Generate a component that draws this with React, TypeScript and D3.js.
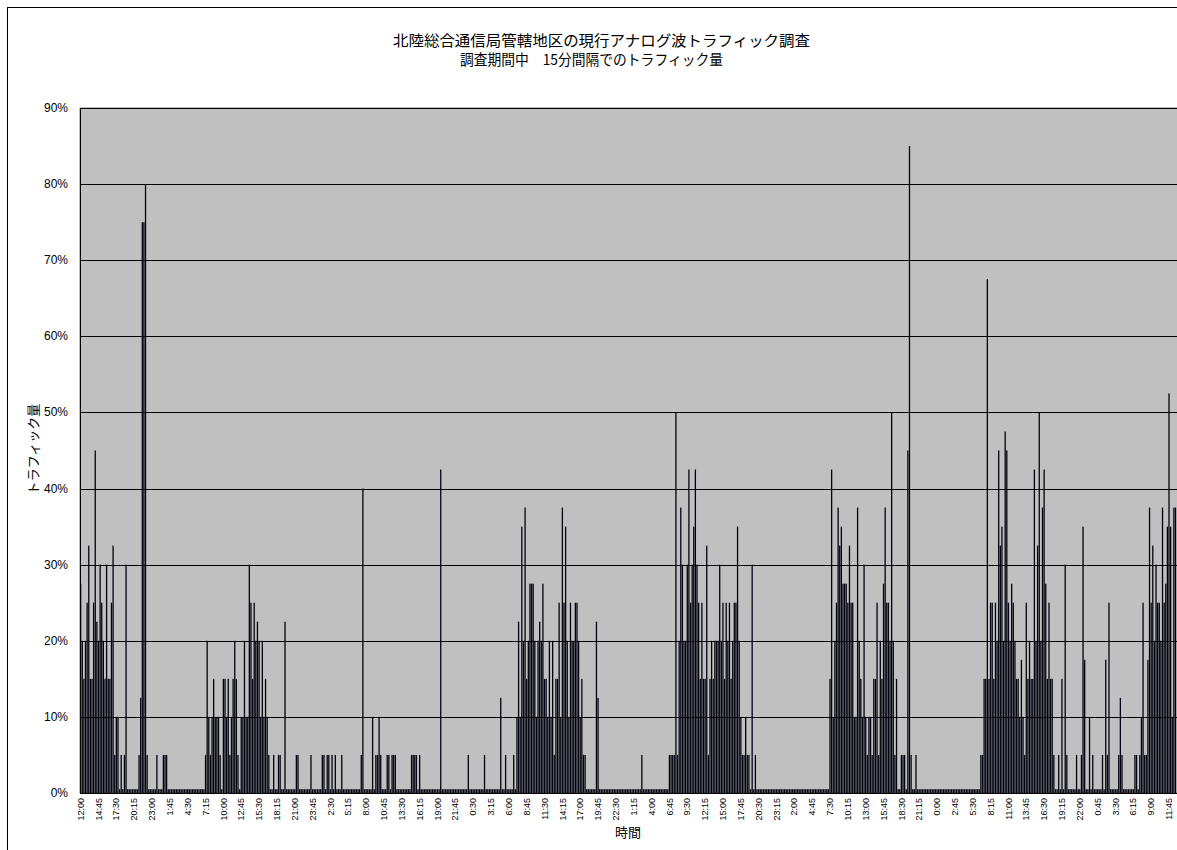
import React from 'react';
import * as d3 from 'd3';

// 15-minute traffic (%), one array per day, each day starting at 12:00
const day1 = [
  27.5, 20, 15, 20, 25, 32.5, 15, 15, 25, 45,
  22.5, 20, 30, 25, 20, 15, 30, 15, 15, 25,
  32.5, 5, 10, 10, 0.5, 5, 0.5, 5, 30, 0.5,
  0.5, 0.5, 0.5, 0.5, 0.5, 0.5, 5, 12.5, 75, 75,
  80, 5, 0.5, 0.5, 0.5, 0.5, 0.5, 5, 0.5, 0.5,
  0.5, 5, 5, 5, 0.5, 0.5, 0.5, 0.5, 0.5, 0.5,
  0.5, 0.5, 0.5, 0.5, 0.5, 0.5, 0.5, 0.5, 0.5, 0.5,
  0.5, 0.5, 0.5, 0.5, 0.5, 0.5, 0.5, 5, 20, 10,
  5, 10, 15, 10, 10, 10, 5, 0.5, 15, 15,
  10, 15, 5, 10, 15, 20,
];
const day2 = [
  15, 5, 0.5, 10, 10, 20, 10, 10, 30, 25,
  15, 25, 20, 22.5, 20, 10, 20, 10, 15, 10,
  5, 0.5, 0.5, 5, 0.5, 0.5, 5, 5, 0.5, 0.5,
  22.5, 0.5, 0.5, 0.5, 0.5, 0.5, 0.5, 5, 5, 0.5,
  0.5, 0.5, 0.5, 0.5, 0.5, 0.5, 5, 0.5, 0.5, 0.5,
  0.5, 0.5, 0.5, 5, 5, 0.5, 5, 5, 0.5, 5,
  0.5, 5, 0.5, 0.5, 0.5, 5, 0.5, 0.5, 0.5, 0.5,
  0.5, 0.5, 0.5, 0.5, 0.5, 0.5, 0.5, 5, 40, 0.5,
  0.5, 0.5, 0.5, 0.5, 10, 0.5, 5, 5, 10, 5,
  0.5, 0.5, 0.5, 5, 5, 0.5,
];
const day3 = [
  5, 5, 5, 0.5, 0.5, 0.5, 0.5, 0.5, 0.5, 0.5,
  0.5, 0.5, 5, 5, 5, 5, 0.5, 5, 0.5, 0.5,
  0.5, 0.5, 0.5, 0.5, 0.5, 0.5, 0.5, 0.5, 0.5, 0.5,
  42.5, 0.5, 0.5, 0.5, 0.5, 0.5, 0.5, 0.5, 0.5, 0.5,
  0.5, 0.5, 0.5, 0.5, 0.5, 0.5, 0.5, 5, 0.5, 0.5,
  0.5, 0.5, 0.5, 0.5, 0.5, 0.5, 0.5, 5, 0.5, 0.5,
  0.5, 0.5, 0.5, 0.5, 0.5, 0.5, 0.5, 12.5, 0.5, 0.5,
  5, 0.5, 0.5, 0.5, 0.5, 5, 0.5, 10, 22.5, 10,
  35, 20, 37.5, 15, 20, 27.5, 27.5, 27.5, 20, 10,
  20, 22.5, 20, 27.5, 15, 15,
];
const day4 = [
  10, 20, 10, 20, 5, 15, 15, 25, 10, 37.5,
  25, 35, 20, 10, 25, 20, 20, 25, 25, 20,
  10, 15, 5, 5, 0.5, 0.5, 0.5, 0.5, 0.5, 0.5,
  22.5, 12.5, 0.5, 0.5, 0.5, 0.5, 0.5, 0.5, 0.5, 0.5,
  0.5, 0.5, 0.5, 0.5, 0.5, 0.5, 0.5, 0.5, 0.5, 0.5,
  0.5, 0.5, 0.5, 0.5, 0.5, 0.5, 0.5, 0.5, 5, 0.5,
  0.5, 0.5, 0.5, 0.5, 0.5, 0.5, 0.5, 0.5, 0.5, 0.5,
  0.5, 0.5, 0.5, 0.5, 0.5, 5, 5, 5, 5, 50,
  5, 20, 37.5, 30, 20, 20, 30, 42.5, 25, 30,
  35, 42.5, 30, 25, 15, 25,
];
const day5 = [
  15, 15, 32.5, 5, 15, 20, 15, 20, 20, 20,
  30, 20, 25, 15, 25, 20, 25, 15, 20, 25,
  25, 35, 20, 10, 5, 5, 10, 5, 5, 0.5,
  30, 0.5, 5, 0.5, 0.5, 0.5, 0.5, 0.5, 0.5, 0.5,
  0.5, 0.5, 0.5, 0.5, 0.5, 0.5, 0.5, 0.5, 0.5, 0.5,
  0.5, 0.5, 0.5, 0.5, 0.5, 0.5, 0.5, 0.5, 0.5, 0.5,
  0.5, 0.5, 0.5, 0.5, 0.5, 0.5, 0.5, 0.5, 0.5, 0.5,
  0.5, 0.5, 0.5, 0.5, 0.5, 0.5, 0.5, 0.5, 15, 42.5,
  10, 20, 25, 37.5, 32.5, 35, 27.5, 27.5, 27.5, 25,
  32.5, 25, 25, 10, 10, 37.5,
];
const day6 = [
  20, 15, 10, 30, 10, 5, 10, 10, 5, 15,
  15, 25, 5, 20, 15, 27.5, 37.5, 25, 25, 20,
  50, 20, 5, 15, 0.5, 0.5, 5, 5, 5, 0.5,
  45, 85, 5, 0.5, 0.5, 5, 0.5, 0.5, 0.5, 0.5,
  0.5, 0.5, 0.5, 0.5, 0.5, 0.5, 0.5, 0.5, 0.5, 0.5,
  0.5, 0.5, 0.5, 0.5, 0.5, 0.5, 0.5, 0.5, 0.5, 0.5,
  0.5, 0.5, 0.5, 0.5, 0.5, 0.5, 0.5, 0.5, 0.5, 0.5,
  0.5, 0.5, 0.5, 0.5, 0.5, 5, 5, 15, 15, 67.5,
  15, 25, 25, 15, 25, 20, 45, 32.5, 35, 20,
  47.5, 45, 25, 20, 27.5, 25,
];
const day7 = [
  20, 15, 15, 10, 17.5, 10, 5, 25, 15, 20,
  15, 15, 42.5, 20, 32.5, 50, 20, 37.5, 42.5, 27.5,
  15, 25, 15, 15, 5, 0.5, 0.5, 5, 0.5, 15,
  0.5, 30, 5, 0.5, 0.5, 0.5, 0.5, 0.5, 5, 0.5,
  0.5, 5, 35, 17.5, 0.5, 0.5, 10, 0.5, 5, 0.5,
  0.5, 0.5, 0.5, 0.5, 5, 0.5, 17.5, 5, 25, 0.5,
  0.5, 0.5, 0.5, 0.5, 5, 12.5, 5, 0.5, 0.5, 0.5,
  0.5, 0.5, 0.5, 0.5, 5, 5, 0.5, 5, 10, 25,
  5, 5, 17.5, 37.5, 25, 32.5, 20, 30, 25, 25,
  20, 37.5, 25, 27.5, 35, 52.5,
];
// first intervals of the following day (chart is cut at the right edge)
const day8 = [35, 10, 37.5, 37.5];

const xLabels = [
  '12:00', '14:45', '17:30', '20:15', '23:00', '1:45', '4:30', '7:15', '10:00', '12:45',
  '15:30', '18:15', '21:00', '23:45', '2:30', '5:15', '8:00', '10:45', '13:30', '16:15',
  '19:00', '21:45', '0:30', '3:15', '6:00', '8:45', '11:30', '14:15', '17:00', '19:45',
  '22:30', '1:15', '4:00', '6:45', '9:30', '12:15', '15:00', '17:45', '20:30', '23:15',
  '2:00', '4:45', '7:30', '10:15', '13:00', '15:45', '18:30', '21:15', '0:00', '2:45',
  '5:30', '8:15', '11:00', '13:45', '16:30', '19:15', '22:00', '0:45', '3:30', '6:15',
  '9:00', '11:45',
];
const labelStep = 11;
const yTicks = [0, 10, 20, 30, 40, 50, 60, 70, 80, 90];

const titleLine1 = '北陸総合通信局管轄地区の現行アナログ波トラフィック調査';
const titleLine2 = '調査期間中　15分間隔でのトラフィック量';
const yTitle = 'トラフィック量';
const xTitle = '時間';

const traffic = [...day1, ...day2, ...day3, ...day4, ...day5, ...day6, ...day7, ...day8];

export default function App() {
  const W = 1177;
  const H = 850;
  const L = 80;
  const step = 1.622;
  const R = L + traffic.length * step;
  const T = 108;
  const B = 793;

  const x = d3.scaleBand<number>().domain(d3.range(traffic.length)).range([L, R]).paddingInner(0).paddingOuter(0);
  const y = d3.scaleLinear().domain([0, 90]).range([B, T]);
  const bw = x.bandwidth();
  const jp = "'Noto Sans CJK JP', sans-serif";
  const num = "'Liberation Sans', Arial, sans-serif";

  return (
    <svg width={W} height={H} style={{ position: 'absolute', left: 0, top: 0, background: '#fff' }}>
      <rect x={7.5} y={7.5} width={W + 10} height={H + 10} fill="#fff" stroke="#000" strokeWidth={1} />
      <text x={601.5} y={46} textAnchor="middle" fontFamily={jp} fontSize={15} textLength={417} lengthAdjust="spacingAndGlyphs" fill="#000">{titleLine1}</text>
      <text x={591.5} y={65} textAnchor="middle" fontFamily={jp} fontSize={14.5} textLength={263} lengthAdjust="spacingAndGlyphs" fill="#000">{titleLine2}</text>

      <rect x={L} y={T} width={W + 20 - L} height={B - T} fill="#C0C0C0" stroke="#808080" strokeWidth={1} />
      {yTicks.filter((t) => t > 0).map((t) => (
        <line key={t} x1={L} x2={W + 20} y1={Math.round(y(t)) + 0.5} y2={Math.round(y(t)) + 0.5} stroke="#000" strokeWidth={1} />
      ))}

      {traffic.map((v, i) => (
        <rect key={i} x={x(i)!} y={y(v)} width={bw * 0.8} height={B - y(v)} fill="#03030f" />
      ))}

      <line x1={L} x2={W + 20} y1={B + 0.5} y2={B + 0.5} stroke="#000" strokeWidth={1} />
      <line x1={L + 0.5} x2={L + 0.5} y1={T} y2={B} stroke="#000" strokeWidth={1} />

      {yTicks.map((t) => (
        <text key={t} x={68} y={y(t) + 4} textAnchor="end" fontFamily={num} fontSize={12} fill="#000">{t}%</text>
      ))}

      {xLabels.map((lab, k) => {
        const cx = x(k * labelStep)! + bw / 2 + 3;
        return (
          <text key={k} transform={`translate(${cx},798) rotate(-90)`} textAnchor="end" fontFamily={num} fontSize={9} fill="#000">{lab}</text>
        );
      })}

      <text transform="translate(38,449) rotate(-90)" textAnchor="middle" fontFamily={jp} fontSize={13} fill="#000">{yTitle}</text>
      <text x={628} y={837} textAnchor="middle" fontFamily={jp} fontSize={13} fill="#000">{xTitle}</text>
    </svg>
  );
}
